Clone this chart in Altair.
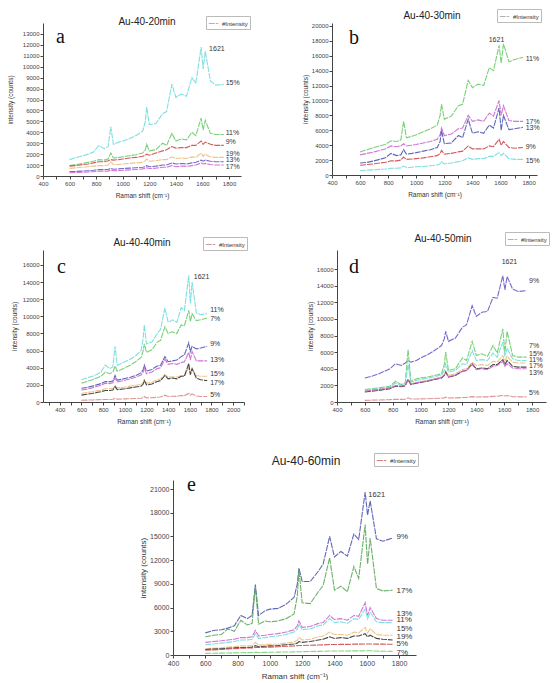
import altair as alt
import pandas as pd

FONT = "Liberation Sans"

# shared Raman-shift sample positions (cm-1)
X = [600, 650, 700, 740, 780, 820, 860, 890, 910, 930, 970, 1000, 1050, 1100, 1150,
     1170, 1180, 1200, 1250, 1300, 1330, 1370, 1400, 1440, 1480, 1520, 1550, 1590,
     1605, 1621, 1660, 1700, 1760]

# ---------------- panel a : Au-40-20min ----------------
A_LABELS = ["15%", "11%", "9%", "19%", "13%", "17%"]
A_15 = [1500, 1700, 1850, 2000, 2200, 2800, 2500, 2700, 4500, 2900, 3100, 3200, 3400, 3700, 4100,
        5000, 6300, 4700, 4800, 5700, 5900, 8400, 7200, 7500, 7300, 9000, 8500, 11800,
        9800, 11400, 8700, 8300, 8400]
A_11 = [950, 1050, 1150, 1250, 1350, 1500, 1450, 1550, 2100, 1650, 1700, 1750, 1850, 1950, 2100,
        2400, 2900, 2300, 2400, 3000, 2800, 3900, 3200, 3400, 3300, 4000, 3700, 5300,
        4200, 5100, 3900, 3800, 3800]
A_9 = [900, 950, 1050, 1100, 1200, 1300, 1300, 1400, 1500, 1450, 1500, 1550, 1650, 1700, 1800,
       1900, 2000, 1900, 2100, 2300, 2400, 2700, 2550, 2600, 2600, 2800, 2800, 3200,
       2900, 3100, 2900, 2800, 2800]
A_19 = [700, 750, 800, 850, 900, 950, 950, 1000, 1300, 1050, 1050, 1100, 1150, 1200, 1250,
        1400, 1550, 1350, 1400, 1500, 1500, 1750, 1600, 1650, 1600, 1750, 1700, 2100,
        1800, 2000, 1750, 1700, 1700]
A_13 = [400, 420, 450, 480, 520, 600, 580, 600, 700, 620, 650, 680, 720, 760, 800,
        850, 950, 850, 900, 1000, 1000, 1200, 1100, 1150, 1100, 1200, 1250, 1450,
        1350, 1450, 1350, 1300, 1300]
A_17 = [300, 320, 340, 370, 400, 450, 430, 450, 550, 480, 500, 520, 560, 600, 650,
        700, 750, 680, 720, 800, 800, 950, 850, 900, 880, 950, 1000, 1200,
        1100, 1150, 1050, 1000, 1000]
A_LABEL_Y = [8500, 3900, 3100, 2000, 1450, 820]

# ---------------- panel b : Au-40-30min ----------------
B_LABELS = ["11%", "17%", "13%", "9%", "15%"]
B_11 = [3100, 3400, 3700, 3900, 4100, 4600, 4500, 4700, 7200, 5000, 5200, 5400, 5800, 6200, 6700,
        8000, 9500, 7500, 7900, 9300, 9500, 12700, 11700, 12200, 12000, 14400, 14000, 17400,
        15000, 17600, 15200, 15500, 15800]
B_17 = [2700, 2900, 3100, 3300, 3500, 3900, 3800, 3900, 4200, 3900, 4000, 4100, 4300, 4500, 4800,
        5400, 6300, 5300, 5500, 6200, 6300, 8000, 7200, 7400, 7200, 8300, 7900, 10000,
        8000, 9300, 7300, 7200, 7200]
B_13 = [1600, 1700, 1900, 2100, 2300, 2900, 2600, 2700, 3400, 2800, 2900, 3000, 3200, 3400, 3700,
        4500, 6000, 4200, 4300, 5300, 5000, 7500, 5600, 5800, 5600, 6700, 6300, 9000,
        6000, 8000, 6100, 6200, 6400]
B_9 = [1300, 1400, 1500, 1600, 1700, 1900, 1900, 2000, 2400, 2100, 2150, 2200, 2300, 2450, 2600,
       2900, 3300, 2800, 2900, 3100, 3200, 3900, 3500, 3500, 3500, 3900, 3800, 4800,
       4000, 4500, 3700, 3600, 3700]
B_15 = [600, 650, 700, 750, 800, 900, 900, 950, 1200, 1000, 1050, 1100, 1150, 1250, 1350,
        1500, 1800, 1500, 1600, 1800, 1900, 2300, 2100, 2200, 2200, 2500, 2500, 3000,
        2600, 2900, 2200, 2100, 2100]
B_LABEL_Y = [15570, 7150, 6270, 3800, 1880]

# ---------------- panel c : Au-40-40min ----------------
C_LABELS = ["11%", "7%", "9%", "13%", "15%", "17%", "5%"]
C_11 = [2600, 2800, 3000, 3200, 3500, 4300, 3900, 4100, 6500, 4300, 4500, 4700, 5000, 5400, 6000,
        7500, 9000, 6800, 7000, 8000, 8500, 11000, 9300, 9600, 9300, 11000, 10700, 14800,
        11500, 14000, 10400, 10200, 10300]
C_7 = [2200, 2400, 2600, 2800, 3000, 3500, 3300, 3500, 4200, 3600, 3800, 4000, 4300, 4700, 5200,
       6000, 6800, 5800, 6100, 7000, 7200, 8800, 8000, 8200, 8000, 9000, 8900, 10700,
       9400, 10300, 9500, 9600, 9800]
C_9 = [1600, 1700, 1850, 2000, 2150, 2400, 2350, 2450, 3100, 2550, 2650, 2750, 2900, 3100, 3400,
       3800, 4300, 3600, 3800, 4200, 4300, 5300, 4700, 4800, 4900, 5300, 5500, 6900,
       5900, 6500, 6200, 6300, 6500]
C_13 = [1400, 1500, 1650, 1800, 1950, 2200, 2150, 2250, 2800, 2350, 2450, 2550, 2700, 2900, 3150,
        3500, 4000, 3300, 3500, 3900, 4000, 5000, 4400, 4500, 4400, 4600, 4700, 5800,
        4900, 5900, 4800, 4800, 4800]
C_15 = [1000, 1100, 1200, 1300, 1400, 1550, 1550, 1600, 1900, 1650, 1700, 1750, 1850, 1950, 2050,
        2300, 2600, 2200, 2300, 2600, 2700, 3200, 2900, 2950, 2900, 3100, 3100, 4000,
        3300, 3800, 3100, 3000, 3000]
C_17 = [800, 900, 1000, 1100, 1200, 1350, 1350, 1400, 1800, 1450, 1500, 1550, 1650, 1750, 1850,
        2100, 2500, 2000, 2100, 2400, 2500, 3100, 2700, 2800, 2700, 3000, 3000, 4500,
        3200, 3900, 2800, 2600, 2500]
C_5 = [200, 220, 240, 260, 280, 300, 300, 320, 420, 340, 350, 360, 380, 400, 430,
       500, 650, 480, 500, 550, 580, 800, 650, 680, 650, 750, 750, 1000,
       800, 950, 700, 650, 650]
C_LABEL_Y = [10760, 9710, 6760, 4850, 3260, 2210, 770]

# ---------------- panel d : Au-40-50min ----------------
D_LABELS = ["9%", "7%", "15%", "11%", "17%", "13%", "5%"]
D_9 = [2900, 3100, 3400, 3700, 4000, 4600, 4400, 4700, 5000, 4800, 5000, 5300, 5700, 6200, 6800,
       7600, 8500, 7300, 7700, 9000, 9300, 11600, 10300, 10800, 10900, 12600, 12500, 15200,
       13500, 15100, 13600, 13300, 13400]
D_7 = [1500, 1600, 1700, 1800, 1900, 2500, 2100, 2300, 6300, 2500, 2800, 2900, 3000, 3200, 3400,
       4500, 6000, 3800, 4000, 5300, 5000, 7300, 5600, 5800, 5500, 6800, 5900, 8800,
       6000, 8500, 5600, 5400, 5400]
D_15 = [1400, 1500, 1600, 1700, 1800, 2300, 2000, 2200, 4500, 2400, 2600, 2700, 2850, 3050, 3250,
        3800, 4600, 3600, 3800, 4600, 4500, 6200, 5000, 5100, 5000, 5900, 5400, 7200,
        5500, 6500, 5200, 5000, 5000]
D_11 = [1300, 1400, 1500, 1600, 1700, 2000, 1900, 2050, 2800, 2200, 2350, 2450, 2600, 2800, 3000,
        3300, 3700, 3200, 3400, 3900, 4000, 4800, 4400, 4500, 4400, 4900, 4800, 5600,
        4900, 5500, 4800, 4700, 4700]
D_17 = [1200, 1300, 1400, 1500, 1600, 1900, 1850, 1950, 2700, 2100, 2250, 2350, 2500, 2700, 2900,
        3200, 3600, 3000, 3200, 3700, 3800, 4600, 4000, 4100, 4000, 4500, 4500, 5100,
        4500, 5000, 4300, 4200, 4200]
D_13 = [1300, 1400, 1500, 1600, 1700, 1950, 1900, 2000, 2600, 2150, 2300, 2400, 2550, 2750, 2950,
        3250, 3500, 3050, 3250, 3700, 3800, 4500, 3900, 4000, 3900, 4300, 4400, 4900,
        4300, 4600, 4100, 4000, 4000]
D_5 = [200, 220, 240, 260, 280, 320, 320, 340, 500, 360, 370, 380, 400, 420, 450,
       500, 600, 480, 500, 540, 560, 650, 600, 620, 620, 680, 700, 800,
       720, 780, 650, 620, 620]
D_LABEL_Y = [14600, 6720, 5790, 5110, 4300, 3500, 1090]

# ---------------- panel e : Au-40-60min ----------------
E_LABELS = ["9%", "17%", "13%", "11%", "15%", "19%", "5%", "7%"]
E_9 = [2800, 3100, 3200, 3400, 3700, 5000, 4600, 5000, 8900, 5000, 5600, 5800, 5900, 6400, 7300,
       9000, 11000, 9300, 9300, 10600, 11500, 15000, 12400, 13100, 12500, 15300, 14600, 20600,
       17700, 19500, 14700, 14400, 14800]
E_17 = [2300, 2500, 2600, 3300, 3000, 4400, 3800, 4000, 8700, 3900, 4300, 4200, 4300, 4600, 5200,
        7500, 10800, 6600, 6500, 8000, 8800, 12300, 8200, 8700, 8000, 11200, 9700, 16500,
        11500, 14800, 8400, 8100, 8200]
E_13 = [1600, 1700, 1800, 1900, 2000, 2200, 2200, 2300, 3100, 2400, 2500, 2600, 2700, 2900, 3200,
        3700, 4300, 3500, 3600, 4000, 4100, 5000, 4500, 4600, 4400, 5000, 4900, 6600,
        5000, 6000, 4600, 4400, 4400]
E_11 = [1300, 1400, 1500, 1600, 1700, 1900, 1900, 2000, 2700, 2100, 2200, 2300, 2400, 2600, 2900,
        3300, 3900, 3200, 3300, 3700, 3800, 4600, 4100, 4200, 4000, 4600, 4500, 5800,
        4600, 5400, 4200, 4100, 4100]
E_15 = [800, 850, 900, 1000, 1050, 1150, 1150, 1200, 1600, 1250, 1300, 1350, 1400, 1500, 1650,
        1900, 2200, 1900, 2000, 2300, 2400, 2900, 2600, 2600, 2500, 2900, 2800, 3500,
        2800, 3300, 2600, 2500, 2500]
E_19 = [700, 750, 800, 850, 900, 950, 950, 1000, 1200, 1050, 1100, 1150, 1200, 1300, 1400,
        1500, 1700, 1600, 1700, 1900, 2000, 2300, 2100, 2200, 2100, 2400, 2400, 2700,
        2300, 2500, 2100, 2000, 1900]
E_5 = [600, 650, 700, 750, 800, 850, 880, 900, 1000, 950, 980, 1000, 1050, 1100, 1150,
       1180, 1200, 1200, 1230, 1260, 1280, 1320, 1320, 1340, 1350, 1370, 1380, 1400,
       1400, 1400, 1380, 1370, 1360]
E_7 = [200, 220, 240, 250, 270, 290, 300, 310, 330, 320, 330, 340, 360, 380, 400,
       410, 420, 420, 440, 460, 470, 500, 500, 510, 510, 520, 520, 540,
       530, 530, 500, 480, 460]
E_LABEL_Y = [14990, 8100, 5190, 4430, 3290, 2330, 1350, 300]

X_TICKS = list(range(400, 1900, 100))
X_TICKS_C = list(range(300, 2200, 100))
Y_TICKS_A = list(range(0, 14000, 1000))
Y_TICKS_B = list(range(0, 22000, 2000))
Y_TICKS_C = list(range(0, 18000, 2000))
Y_TICKS_E = list(range(0, 24000, 3000))

CYAN, GREEN, RED, TAN = "#72dcdc", "#6acb6a", "#cc4a4a", "#ecbc7c"
BLUE, MAGENTA, PURPLE, BLACK = "#4f55b0", "#cc66d2", "#6a58c8", "#333333"
PINK, DKGREEN, LTGREEN = "#d98a8a", "#5aa85a", "#77d077"


def panel(letter, title, labels, series, colors, xdom, xticks, ydom, yticks, w, h,
          lab_x, lab_y, peak, letter_pos, title_pos, legend_pos, leg_color, ytp, big=False):
    rows = []
    for lab, ys in zip(labels, series):
        assert len(ys) == len(X), (title, lab, len(ys))
        for xv, yv in zip(X, ys):
            rows.append({"x": xv, "y": yv, "s": lab, "leg": "#Intensity"})
    df = pd.DataFrame(rows)
    tick_fs = 7 if big else 6
    title_fs = 8 if big else 6.5
    lab_fs = 8 if big else 7
    xs = alt.Scale(domain=xdom, nice=False, zero=False)
    ys_ = alt.Scale(domain=ydom, nice=False, zero=False)
    common = dict(grid=False, tickSize=3, labelFontSize=tick_fs, titleFontSize=title_fs,
                  labelFont=FONT, titleFont=FONT, titleFontWeight="normal", labelColor="#444",
                  titleColor="#333", domainColor="#444", tickColor="#444", labelPadding=1,
                  labelOverlap=False, format="d")
    xaxis = alt.Axis(values=xticks, labelExpr="datum.value % 200 == 0 ? datum.label : ''",
                     title="Raman shift (cm\u207b\u00b9)", titlePadding=6, labelFlush=False,
                     **common)
    yaxis = alt.Axis(values=yticks, title="intensity (counts)", titlePadding=ytp, **common)
    lines = alt.Chart(df).mark_line(strokeWidth=1.1, opacity=0.9, clip=True).encode(
        x=alt.X("x:Q", scale=xs, axis=xaxis),
        y=alt.Y("y:Q", scale=ys_, axis=yaxis),
        color=alt.Color("s:N", scale=alt.Scale(domain=labels, range=colors), legend=None),
        strokeDash=alt.StrokeDash(
            "leg:N", scale=alt.Scale(domain=["#Intensity"], range=[[6, 1]]),
            legend=alt.Legend(orient="none", legendX=legend_pos[0], legendY=legend_pos[1],
                              title=None, labelFontSize=6, labelFont=FONT, labelColor="#333",
                              symbolType="stroke", symbolStrokeColor=leg_color,
                              symbolStrokeWidth=1, symbolSize=90, strokeColor="#bbbbbb",
                              padding=2, labelOffset=3)),
        detail="s:N",
    )
    ldf = pd.DataFrame({"x": [lab_x] * len(labels), "y": lab_y, "t": labels})
    labs = alt.Chart(ldf).mark_text(align="left", baseline="middle", fontSize=lab_fs,
                                    font=FONT, color="#333").encode(
        x=alt.X("x:Q", scale=xs, axis=xaxis), y=alt.Y("y:Q", scale=ys_, axis=yaxis), text="t:N")
    pdf = pd.DataFrame({"x": [peak[0]], "y": [peak[1]], "t": ["1621"]})
    pk = alt.Chart(pdf).mark_text(align="left", baseline="middle", fontSize=7.5 if big else 7,
                                  font=FONT, color="#333").encode(
        x=alt.X("x:Q", scale=xs, axis=xaxis), y=alt.Y("y:Q", scale=ys_, axis=yaxis), text="t:N")
    let = alt.Chart(pd.DataFrame({"t": [letter]})).mark_text(
        align="left", baseline="alphabetic", fontSize=20, font="Liberation Serif",
        color="#111").encode(x=alt.value(letter_pos[0]), y=alt.value(letter_pos[1]), text="t:N")
    tt = alt.Chart(pd.DataFrame({"t": [title]})).mark_text(
        align="center", baseline="alphabetic", fontSize=12 if big else 10, font=FONT,
        color="#222").encode(x=alt.value(title_pos[0]), y=alt.value(title_pos[1]), text="t:N")
    return alt.layer(lines, labs, pk, let, tt).properties(width=w, height=h)


pa = panel("a", "Au-40-20min", A_LABELS, [A_15, A_11, A_9, A_19, A_13, A_17],
           [CYAN, GREEN, RED, TAN, PURPLE, MAGENTA], [400, 1890], X_TICKS, [0, 14000], Y_TICKS_A,
           198, 153, 1775, A_LABEL_Y, (1650, 11600), (13, 20), (104, 2), (163, -7), "#aaaaaa", 9)
pb = panel("b", "Au-40-30min", B_LABELS, [B_11, B_17, B_13, B_9, B_15],
           [GREEN, MAGENTA, BLUE, RED, CYAN], [400, 1860], X_TICKS, [0, 20400], Y_TICKS_B,
           205, 152, 1779, B_LABEL_Y, (1516, 18100), (17, 21), (100, -4), (165, -14), "#aaaaaa", 3)
pc = panel("c", "Au-40-40min", C_LABELS, [C_11, C_7, C_9, C_13, C_15, C_17, C_5],
           [CYAN, GREEN, BLUE, MAGENTA, TAN, BLACK, PINK], [245, 2100], X_TICKS_C, [0, 17750],
           Y_TICKS_C, 201, 152, 1788, C_LABEL_Y, (1637, 14640), (14, 23), (99, -4), (160, -13),
           "#d08a98", 5)
pd_ = panel("d", "Au-40-50min", D_LABELS, [D_9, D_7, D_15, D_11, D_17, D_13, D_5],
            [PURPLE, GREEN, CYAN, TAN, BLACK, MAGENTA, PINK], [400, 1900], X_TICKS, [0, 18300],
            Y_TICKS_C, 209, 152, 1778, D_LABEL_Y, (1582, 16890), (12, 23), (106, -8), (168, -18),
            "#aaaaaa", 3)
pe = panel("e", "Au-40-60min", E_LABELS, [E_9, E_17, E_13, E_11, E_15, E_19, E_5, E_7],
           [BLUE, DKGREEN, MAGENTA, CYAN, TAN, BLACK, RED, LTGREEN], [400, 1905], X_TICKS,
           [0, 22140], Y_TICKS_E, 243, 175, 1784, E_LABEL_Y, (1610, 20250), (14, 11), (133, -15),
           (201, -27), "#d06a6a", 2, big=True)

spacer = alt.Chart(pd.DataFrame({"v": [0]})).mark_point(opacity=0).encode(
    x=alt.X("v:Q", axis=None), y=alt.Y("v:Q", axis=None)).properties(width=100, height=20)

RES = dict(x="independent", y="independent", color="independent", strokeDash="independent")

row1 = alt.hconcat(pa, pb, spacing=91, bounds="flush").resolve_scale(**RES).resolve_legend(
    strokeDash="independent")
row2 = alt.hconcat(pc, pd_, spacing=93, bounds="flush").resolve_scale(**RES).resolve_legend(
    strokeDash="independent")
row3 = alt.hconcat(spacer, pe, spacing=30, bounds="flush").resolve_scale(**RES).resolve_legend(
    strokeDash="independent")

top = alt.vconcat(row1, row2, spacing=32).resolve_scale(**RES).resolve_legend(
    strokeDash="independent")

chart = alt.vconcat(top, row3, spacing=27).resolve_scale(
    **RES).resolve_legend(strokeDash="independent").properties(
    padding={"left": 7, "top": 8, "right": 0, "bottom": 0}, background="white"
).configure_axis(labelOverlap=False).configure_view(stroke=None)

chart.save("out.html", embed_options={"renderer": "svg", "actions": False})
